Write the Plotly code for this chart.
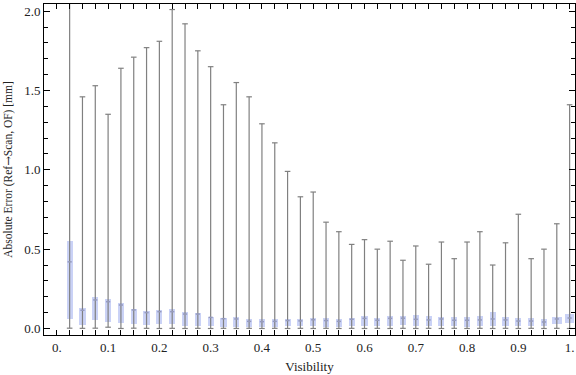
import plotly.graph_objects as go

visibility = [0.025, 0.05, 0.075, 0.1, 0.125, 0.15, 0.175, 0.2, 0.225, 0.25,
              0.275, 0.3, 0.325, 0.35, 0.375, 0.4, 0.425, 0.45, 0.475, 0.5,
              0.525, 0.55, 0.575, 0.6, 0.625, 0.65, 0.675, 0.7, 0.725, 0.75,
              0.775, 0.8, 0.825, 0.85, 0.875, 0.9, 0.925, 0.95, 0.975, 1.0]

err_max = [2.30, 1.46, 1.53, 1.35, 1.64, 1.71, 1.77, 1.81, 2.01, 1.92,
           1.75, 1.65, 1.41, 1.55, 1.46, 1.29, 1.17, 0.99, 0.83, 0.86,
           0.67, 0.61, 0.53, 0.56, 0.50, 0.55, 0.43, 0.52, 0.405, 0.545,
           0.44, 0.545, 0.61, 0.40, 0.54, 0.72, 0.44, 0.50, 0.66, 1.41]

err_q3 = [0.551, 0.127, 0.197, 0.184, 0.163, 0.123, 0.110, 0.117, 0.123, 0.104,
          0.098, 0.074, 0.066, 0.074, 0.060, 0.060, 0.062, 0.062, 0.060, 0.068,
          0.064, 0.060, 0.064, 0.079, 0.064, 0.079, 0.079, 0.085, 0.079, 0.072,
          0.072, 0.072, 0.080, 0.104, 0.073, 0.066, 0.066, 0.060, 0.073, 0.092]

err_median = [0.42, 0.115, 0.18, 0.169, 0.148, 0.117, 0.10, 0.106, 0.106, 0.091,
              0.091, 0.070, 0.062, 0.060, 0.045, 0.043, 0.045, 0.050, 0.048, 0.055,
              0.050, 0.045, 0.058, 0.064, 0.052, 0.064, 0.065, 0.058, 0.054, 0.060,
              0.052, 0.052, 0.054, 0.060, 0.054, 0.047, 0.047, 0.041, 0.060, 0.066]

err_q1 = [0.060, 0.022, 0.054, 0.043, 0.037, 0.028, 0.022, 0.026, 0.026, 0.018,
          0.016, 0.016, 0.009, 0.011, 0.011, 0.011, 0.011, 0.016, 0.018, 0.018,
          0.011, 0.009, 0.018, 0.018, 0.018, 0.018, 0.022, 0.018, 0.018, 0.018,
          0.018, 0.011, 0.016, 0.016, 0.016, 0.016, 0.018, 0.016, 0.028, 0.037]

err_min = [0.002, 0.001, 0.002, 0.008, 0.000, 0.002, 0.001, 0.000, 0.001, 0.000,
           0.001, 0.000, 0.001, 0.000, 0.001, 0.000, 0.001, 0.000, 0.001, 0.000,
           0.001, 0.000, 0.001, 0.000, 0.001, 0.000, 0.001, 0.000, 0.001, 0.000,
           0.001, 0.000, 0.001, 0.000, 0.001, 0.000, 0.001, 0.000, 0.001, 0.000]

x_tick_vals = [0.0, 0.1, 0.2, 0.3, 0.4, 0.5, 0.6, 0.7, 0.8, 0.9, 1.0]
x_tick_text = ["0.", "0.1", "0.2", "0.3", "0.4", "0.5", "0.6", "0.7", "0.8", "0.9", "1."]
y_tick_vals = [0.0, 0.5, 1.0, 1.5, 2.0]
y_tick_text = ["0.0", "0.5", "1.0", "1.5", "2.0"]

WHISKER = "rgb(128,128,128)"
BOX = "rgb(202,210,246)"

fig = go.Figure()

# whiskers (min to max)
wx, wy = [], []
for x, lo, hi in zip(visibility, err_min, err_max):
    wx += [x, x, None]
    wy += [lo, hi, None]
fig.add_trace(go.Scatter(x=wx, y=wy, mode="lines",
                         line=dict(color=WHISKER, width=1.2),
                         hoverinfo="skip", showlegend=False))

# whisker caps
fig.add_trace(go.Scatter(x=visibility + visibility, y=err_max + err_min, mode="markers",
                         marker=dict(symbol="line-ew", size=4,
                                     line=dict(color=WHISKER, width=1.2)),
                         hoverinfo="skip", showlegend=False))

# boxes
box_widths = [0.012] * 38 + [0.019, 0.018]
fig.add_trace(go.Bar(x=visibility,
                     y=[q3 - q1 for q1, q3 in zip(err_q1, err_q3)],
                     base=err_q1, width=box_widths,
                     marker=dict(color=BOX, line=dict(width=0)),
                     hoverinfo="skip", showlegend=False))

# medians
fig.add_trace(go.Scatter(x=visibility, y=err_median, mode="markers",
                         marker=dict(symbol="line-ew", size=3,
                                     line=dict(color="rgb(150,155,190)", width=1.5)),
                         hoverinfo="skip", showlegend=False))

axis_font = dict(family="Liberation Serif", size=13, color="#222")
ytitle_font = dict(family="Liberation Serif", size=11.5, color="#222")

fig.update_layout(
    width=576, height=375,
    margin=dict(l=44, r=1, t=4, b=40),
    paper_bgcolor="white", plot_bgcolor="white",
    font=axis_font,
    bargap=0,
    xaxis=dict(range=[-0.025, 1.0105], showgrid=False, zeroline=False, automargin=False,
               showline=True, linecolor="black", linewidth=1, mirror="ticks",
               ticks="inside", ticklen=5, tickcolor="black", tickwidth=1,
               tickvals=x_tick_vals, ticktext=x_tick_text,
               minor=dict(dtick=0.025, tick0=0, ticks="inside", ticklen=5,
                          tickcolor="black", showgrid=False),
               title=dict(text="Visibility", font=axis_font, standoff=8),
               tickfont=axis_font),
    yaxis=dict(range=[-0.041, 2.045], showgrid=False, zeroline=False, automargin=False,
               showline=True, linecolor="black", linewidth=1, mirror="ticks",
               ticks="inside", ticklen=6, tickcolor="black", tickwidth=1,
               tickvals=y_tick_vals, ticktext=y_tick_text,
               minor=dict(dtick=0.1, tick0=0, ticks="inside", ticklen=4,
                          tickcolor="black", showgrid=False),
               title=dict(text="Absolute Error (Ref<span style=\"font-family:'DejaVu Serif'\">→</span>Scan, OF) [mm]",
                          font=ytitle_font, standoff=9),
               tickfont=axis_font),
)

fig.write_html("out.html", config={"displayModeBar": False},
               post_script="document.body.style.margin='0px';document.body.style.overflow='hidden';")
